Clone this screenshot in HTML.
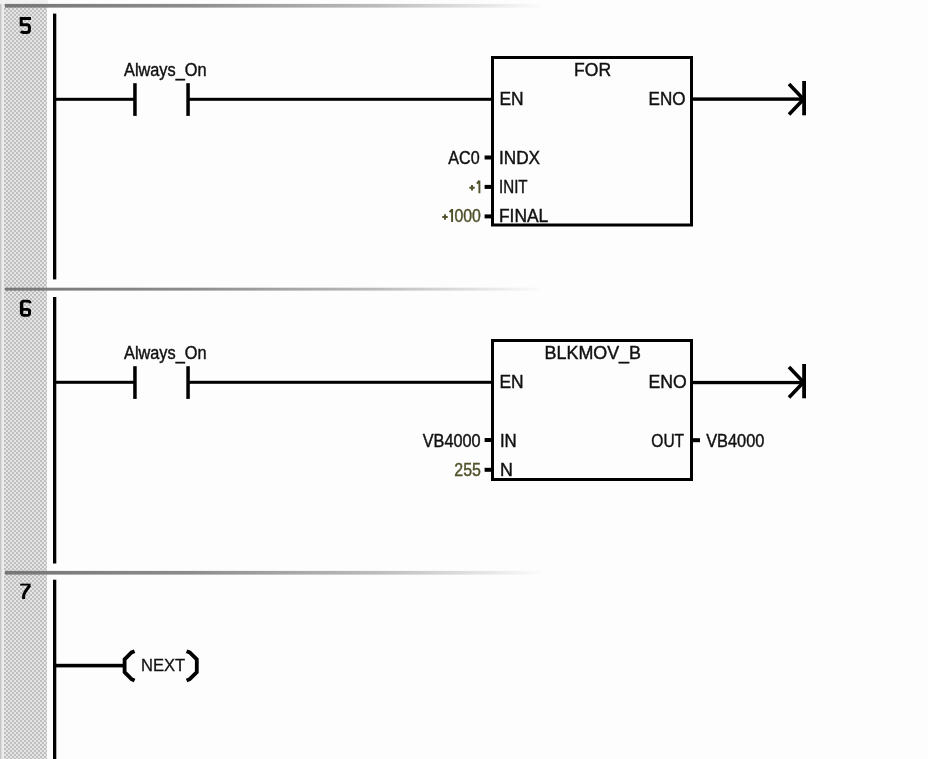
<!DOCTYPE html>
<html><head><meta charset="utf-8">
<style>
html,body{margin:0;padding:0;background:#fefdfe;width:928px;height:759px;overflow:hidden}
svg{display:block;will-change:transform;filter:blur(0.3px)}
text{font-family:"Liberation Sans",sans-serif;font-size:17.6px;fill:#111;stroke:#111;stroke-width:0.42px}
.num{font-weight:bold;font-size:23px;fill:#000;stroke:none}
.dg{fill:none;stroke:#000;stroke-width:2.6px}
.olp{fill:none;stroke:#50502a;stroke-width:1.9px}
.ol{fill:#50502a;stroke:#50502a}
</style></head><body>
<svg width="928" height="759" viewBox="0 0 928 759">
<defs>
<pattern id="dith" width="4" height="4" patternUnits="userSpaceOnUse">
<rect width="4" height="4" fill="#e5e5e5"/>
<rect width="2" height="2" fill="#bfbfbf"/>
<rect x="2" y="2" width="2" height="2" fill="#bfbfbf"/>
</pattern>
<linearGradient id="sep" x1="0" y1="0" x2="540" y2="0" gradientUnits="userSpaceOnUse">
<stop offset="0" stop-color="#767676"/>
<stop offset="0.35" stop-color="#8c8c8c"/>
<stop offset="0.7" stop-color="#bcbcbc"/>
<stop offset="1" stop-color="#fbfbfb"/>
</linearGradient>
<g id="endsym">
<rect x="802.2" y="81" width="3.8" height="34.3" fill="#000"/>
<path d="M789 84 L803.5 99.2 L789 114.5" fill="none" stroke="#000" stroke-width="3.6"/>
</g>
<g id="contact">
<rect x="53" y="97.8" width="82" height="3.0" fill="#000"/>
<rect x="133.2" y="83.2" width="3.5" height="32.7" fill="#000"/>
<rect x="186.3" y="83.2" width="3.5" height="32.7" fill="#000"/>
<rect x="188" y="97.8" width="304" height="3.0" fill="#000"/>
<text x="124.00" y="75.8" textLength="82.50" lengthAdjust="spacingAndGlyphs">Always_On</text>
</g>
</defs>
<rect x="0" y="0" width="4" height="759" fill="#ebebeb"/>
<rect x="0" y="0" width="1.4" height="759" fill="#c4c4c4"/>
<rect x="4" y="0" width="43" height="759" fill="url(#dith)"/>
<rect x="0" y="0" width="48" height="4" fill="#f1f1f1"/>

<rect x="5" y="3.9" width="535" height="3.7" fill="url(#sep)"/>
<path class="dg" d="M30.9 18.5 H21.2 V24.8 H27.2 Q29.4 24.8 29.4 27.2 V30 Q29.4 32.5 27 32.5 H23.6 Q21.9 32.5 20.8 31.2" style="stroke-width:3px"/>
<rect x="53" y="13.6" width="3.3" height="265.8" fill="#000"/>
<use href="#contact"/>
<rect x="492.5" y="57.5" width="199" height="167.5" fill="none" stroke="#000" stroke-width="3"/>
<text x="574.10" y="76.1" textLength="37.00" lengthAdjust="spacingAndGlyphs">FOR</text>
<text x="499.50" y="104.6" textLength="24.20" lengthAdjust="spacingAndGlyphs">EN</text>
<text x="648.50" y="104.6" textLength="37.00" lengthAdjust="spacingAndGlyphs">ENO</text>
<text x="499.00" y="163.5" textLength="41.00" lengthAdjust="spacingAndGlyphs">INDX</text>
<text x="499.00" y="192.5" textLength="28.60" lengthAdjust="spacingAndGlyphs">INIT</text>
<text x="499.00" y="221.5" textLength="49.20" lengthAdjust="spacingAndGlyphs">FINAL</text>
<rect x="484.6" y="155.5" width="8" height="4" fill="#000"/>
<rect x="484.6" y="184.9" width="8" height="4" fill="#000"/>
<rect x="484.6" y="214.4" width="8" height="4" fill="#000"/>
<text x="448.30" y="163.5" textLength="31.30" lengthAdjust="spacingAndGlyphs">AC0</text>
<path class="olp" d="M469.3 187.7 H474.7 M472 184.9 V190.5"/><path class="olp" d="M479.4 180.4 V193.2 M476.9 183.6 L479.4 180.6"/>
<path class="olp" d="M442.3 217 H447.7 M445 214.2 V219.8"/><path class="olp" d="M452.1 209 V222 M449.6 212.2 L452.1 209.3"/><text class="ol" x="454.50" y="221.5" textLength="26.42" lengthAdjust="spacingAndGlyphs">000</text>
<rect x="692" y="97.4" width="112" height="3.4" fill="#000"/>
<use href="#endsym"/>

<rect x="5" y="287.7" width="535" height="2.9" fill="url(#sep)"/>
<path class="dg" d="M30.2 303.2 Q29.8 301.2 27.8 301.2 H23.8 Q21.6 301.2 21.6 303.6 V312.9 Q21.6 315.3 23.8 315.3 H27.4 Q29.6 315.3 29.6 313 V311.6 Q29.6 309.3 27.4 309.3 H21.6" style="stroke-width:2.7px"/><rect x="19.9" y="302" width="3.4" height="12" fill="#000"/><rect x="28" y="309.5" width="3" height="5" fill="#000"/>
<rect x="53" y="297" width="3.3" height="266.5" fill="#000"/>
<g transform="translate(0,283)">
<use href="#contact"/>
<rect x="492.5" y="57.5" width="199" height="139" fill="none" stroke="#000" stroke-width="3"/>
<text x="544.60" y="76.1" textLength="96.40" lengthAdjust="spacingAndGlyphs">BLKMOV_B</text>
<text x="499.50" y="104.6" textLength="24.20" lengthAdjust="spacingAndGlyphs">EN</text>
<text x="648.50" y="104.6" textLength="38.30" lengthAdjust="spacingAndGlyphs">ENO</text>
<text x="499.90" y="163.5" textLength="16.80" lengthAdjust="spacingAndGlyphs">IN</text>
<text x="499.90" y="192.5" textLength="12.90" lengthAdjust="spacingAndGlyphs">N</text>
<text x="651.30" y="163.5" textLength="32.80" lengthAdjust="spacingAndGlyphs">OUT</text>
<text x="706.20" y="163.5" textLength="58.20" lengthAdjust="spacingAndGlyphs">VB4000</text>
<rect x="484.6" y="155" width="8" height="4" fill="#000"/>
<rect x="484.6" y="184.8" width="8" height="4" fill="#000"/>
<rect x="691" y="155.2" width="9" height="4" fill="#000"/>
<text x="422.70" y="163.5" textLength="57.90" lengthAdjust="spacingAndGlyphs">VB4000</text>
<text class="ol" x="454.30" y="192.5" textLength="26.60" lengthAdjust="spacingAndGlyphs">255</text>
<rect x="692" y="97.9" width="112" height="3.3" fill="#000"/>
<use href="#endsym"/>
</g>

<rect x="5" y="570.9" width="535" height="3.7" fill="url(#sep)"/>
<path class="dg" d="M20.2 584.6 H30.6" style="stroke-width:1.9px"/><path class="dg" d="M29.8 585.2 L25.2 591.8 Q23.6 594.2 23.6 596.5 L23.6 599" style="stroke-width:3px"/>
<rect x="53" y="579.7" width="3.3" height="180" fill="#000"/>
<rect x="53" y="663.8" width="72" height="3.6" fill="#000"/>
<path d="M134.6 651.2 L131.5 652.4 L124.6 659.4 L124.6 672.2 L131.5 679.2 L134.6 680.6" fill="none" stroke="#000" stroke-width="3.8"/>
<path d="M186.6 651.2 L189.7 652.4 L196.8 659.4 L196.8 672.2 L189.7 679.2 L186.6 680.6" fill="none" stroke="#000" stroke-width="3.8"/>
<text style="font-size:16.6px;stroke-width:0.3px" x="141.00" y="671.0" textLength="44.20" lengthAdjust="spacingAndGlyphs">NEXT</text>
</svg>
</body></html>
